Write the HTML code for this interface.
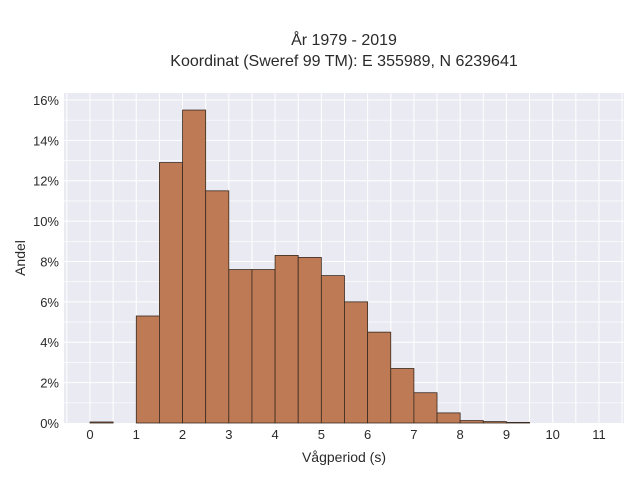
<!DOCTYPE html>
<html><head><meta charset="utf-8"><style>
body{margin:0;background:#fff;font-family:"Liberation Sans",sans-serif}
</style></head><body>
<svg id="chart" width="640" height="480" xmlns="http://www.w3.org/2000/svg" font-family="Liberation Sans, sans-serif">
<text x="344" y="45" text-anchor="middle" font-size="16" fill="#2a2a2a">År 1979 - 2019</text>
<text x="344" y="66" text-anchor="middle" font-size="16" fill="#2a2a2a">Koordinat (Sweref 99 TM): E 355989, N 6239641</text>
<rect x="64" y="93" width="560" height="330" fill="#eaeaf2"/>
<g id="grid"></g><g id="bars"></g><g id="axes"></g>
<text x="344" y="462" text-anchor="middle" font-size="14" fill="#2a2a2a">Vågperiod (s)</text>
<text transform="translate(25,258) rotate(-90)" text-anchor="middle" font-size="14" fill="#2a2a2a">Andel</text>
</svg>
<script>
const binStarts=[0,1,1.5,2,2.5,3,3.5,4,4.5,5,5.5,6,6.5,7,7.5,8,8.5,9];
const binValues=[0.05,5.3,12.9,15.5,11.5,7.6,7.6,8.3,8.2,7.3,6.0,4.5,2.7,1.5,0.5,0.12,0.07,0.03];
const xTicks=[0,1,2,3,4,5,6,7,8,9,10,11];
const yTicks=[0,2,4,6,8,10,12,14,16];
const binWidth=0.5;
const NS="http://www.w3.org/2000/svg";
const X=v=>90+v*46.27, Y=v=>423-v*20.19;
function mk(t,a,p){const e=document.createElementNS(NS,t);for(const k in a)e.setAttribute(k,a[k]);p.appendChild(e);return e;}
const g=document.getElementById('grid'),b=document.getElementById('bars'),ax=document.getElementById('axes');
for(let v=-0.5;v<=11.5;v+=0.5){const x=X(v);if(x<64||x>624)continue;
const l=mk('line',{x1:x,x2:x,y1:93,y2:423,stroke:'#fff','stroke-width':1},g);

}
for(let v=1;v<=16;v+=1){const y=Y(v);
const l=mk('line',{x1:64,x2:624,y1:y,y2:y,stroke:'#fff','stroke-width':v%2?0.6:1},g);

}
binStarts.forEach((s,i)=>{const x0=X(s),x1=X(s+binWidth),y=Y(binValues[i]);
const r=mk('rect',{x:x0,y:y,width:x1-x0,height:423-y,fill:'#bd7a55',stroke:'#3a2a20','stroke-width':0.8},b);

});
xTicks.forEach(v=>{const t=mk('text',{x:X(v),y:439,'text-anchor':'middle','font-size':13,fill:'#2a2a2a'},ax);t.textContent=v;

});
yTicks.forEach(v=>{const t=mk('text',{x:59,y:Y(v)+5,'text-anchor':'end','font-size':13,fill:'#2a2a2a'},ax);t.textContent=v+'%';

});
</script>
</body></html>
